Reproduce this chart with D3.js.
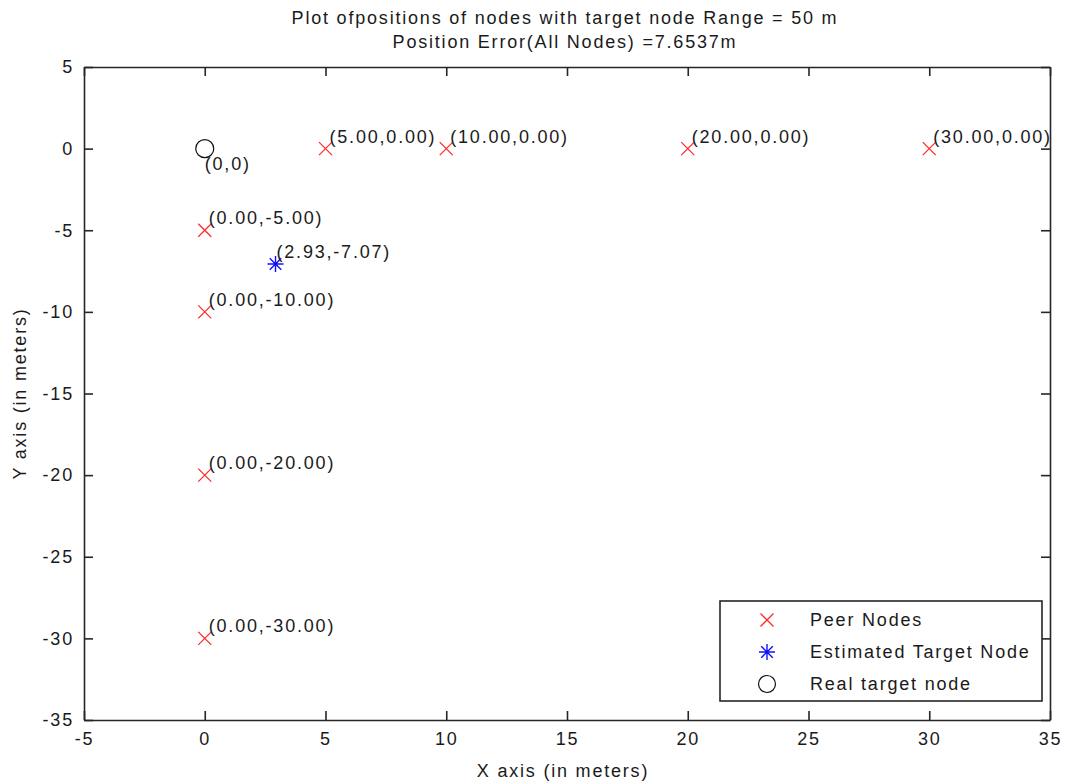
<!DOCTYPE html>
<html>
<head>
<meta charset="utf-8">
<script src="https://cdn.jsdelivr.net/npm/d3@7"></script>
<style>
  html, body { margin: 0; padding: 0; background: #fff; }
  svg { display: block; }
  text { font-family: "Liberation Sans", Arial, sans-serif; fill: #1a1a1a; }
</style>
</head>
<body>
<svg id="chart" width="1065" height="782"></svg>
<script>
// Node coordinates (metres)
const peerX = [5, 10, 20, 30, 0, 0, 0, 0];
const peerY = [0, 0, 0, 0, -5, -10, -20, -30];
const estimatedX = [2.93];
const estimatedY = [-7.07];
const realX = [0];
const realY = [0];

const xTicks = [-5, 0, 5, 10, 15, 20, 25, 30, 35];
const yTicks = [-35, -30, -25, -20, -15, -10, -5, 0, 5];

const titleLines = [
  "Plot ofpositions of nodes with target node Range = 50 m",
  "Position Error(All Nodes) =7.6537m"
];
const legendLabels = ["Peer Nodes", "Estimated Target Node", "Real target node"];

const svg = d3.select("#chart");
const W = 1065, H = 782;
const m = { left: 84, right: 15, top: 67, bottom: 62 };

const x = d3.scaleLinear().domain([-5, 35]).range([m.left, W - m.right]);
const y = d3.scaleLinear().domain([-35, 5]).range([H - m.bottom, m.top]);

const FONT = 18, LS = "1.8px";
const tickLen = 9;

// plain hyphen-minus for negative numbers
const num = v => (v < 0 ? "-" : "") + Math.abs(v);
const fix2 = v => (v < 0 ? "-" : "") + Math.abs(v).toFixed(2);

// Frame axes: labelled bottom/left, mirrored ticks on top/right, ticks pointing inward
function styleAxis(g) {
  g.select(".domain").attr("stroke", "#262626").attr("stroke-width", 1.6);
  g.selectAll(".tick line").attr("stroke", "#262626").attr("stroke-width", 1.6);
  g.selectAll(".tick text")
    .attr("font-family", "Liberation Sans, Arial, sans-serif")
    .style("font-size", FONT + "px").style("letter-spacing", LS).attr("fill", "#1a1a1a");
}

svg.append("g")
  .attr("transform", `translate(0,${y(-35)})`)
  .call(d3.axisBottom(x).tickValues(xTicks).tickSizeInner(-tickLen).tickSizeOuter(0).tickPadding(12).tickFormat(num))
  .call(styleAxis);
svg.append("g")
  .attr("transform", `translate(${x(-5)},0)`)
  .call(d3.axisLeft(y).tickValues(yTicks).tickSizeInner(-tickLen).tickSizeOuter(0).tickPadding(10).tickFormat(num))
  .call(styleAxis);
svg.append("g")
  .attr("transform", `translate(0,${y(5)})`)
  .call(d3.axisTop(x).tickValues(xTicks).tickSizeInner(-tickLen).tickSizeOuter(0).tickFormat(""))
  .call(styleAxis);
svg.append("g")
  .attr("transform", `translate(${x(35)},0)`)
  .call(d3.axisRight(y).tickValues(yTicks).tickSizeInner(-tickLen).tickSizeOuter(0).tickFormat(""))
  .call(styleAxis);

// Title
svg.append("g").selectAll("text").data(titleLines).join("text")
  .attr("x", (x(-5) + x(35)) / 2 - 2)
  .attr("y", (d, i) => 24 + i * 24)
  .attr("text-anchor", "middle")
  .style("font-size", FONT + "px").style("letter-spacing", LS)
  .text(d => d);

// Axis titles
svg.append("text")
  .attr("x", (x(-5) + x(35)) / 2 - 4).attr("y", 777)
  .attr("text-anchor", "middle")
  .style("font-size", FONT + "px").style("letter-spacing", LS)
  .text("X axis (in meters)");
svg.append("text")
  .attr("transform", `translate(26,${(y(-35) + y(5)) / 2}) rotate(-90)`)
  .attr("text-anchor", "middle")
  .style("font-size", FONT + "px").style("letter-spacing", LS)
  .text("Y axis (in meters)");

// Marker shapes
const crossPath = s => `M${-s},${-s}L${s},${s}M${-s},${s}L${s},${-s}`;
const starPath = s => {
  const d = s * 0.72;
  return `M${-s},0L${s},0M0,${-s}L0,${s}M${-d},${-d}L${d},${d}M${-d},${d}L${d},${-d}`;
};

const peers = peerX.map((v, i) => ({ x: v, y: peerY[i] }));
const est = estimatedX.map((v, i) => ({ x: v, y: estimatedY[i] }));
const real = realX.map((v, i) => ({ x: v, y: realY[i] }));

const labelStyle = sel => sel.style("font-size", FONT + "px").style("letter-spacing", LS);

// Real target node
svg.append("g").selectAll("circle").data(real).join("circle")
  .attr("cx", d => x(d.x)).attr("cy", d => y(d.y)).attr("r", 9)
  .attr("fill", "none").attr("stroke", "#111").attr("stroke-width", 1.2);
svg.append("g").selectAll("text").data(real).join("text")
  .attr("x", d => x(d.x)).attr("y", d => y(d.y) + 21)
  .call(labelStyle)
  .text(d => `(${num(d.x)},${num(d.y)})`);

// Peer nodes
svg.append("g").selectAll("path").data(peers).join("path")
  .attr("transform", d => `translate(${x(d.x)},${y(d.y)})`)
  .attr("d", crossPath(6.5))
  .attr("fill", "none").attr("stroke", "#ff2a2a").attr("stroke-width", 1.3);
svg.append("g").selectAll("text").data(peers).join("text")
  .attr("x", d => x(d.x) + 4).attr("y", d => y(d.y) - 6)
  .call(labelStyle)
  .text(d => `(${fix2(d.x)},${fix2(d.y)})`);

// Estimated target node
svg.append("g").selectAll("path").data(est).join("path")
  .attr("transform", d => `translate(${x(d.x)},${y(d.y)})`)
  .attr("d", starPath(8))
  .attr("fill", "none").attr("stroke", "#1010ff").attr("stroke-width", 1.4);
svg.append("g").selectAll("text").data(est).join("text")
  .attr("x", d => x(d.x) + 1).attr("y", d => y(d.y) - 6)
  .call(labelStyle)
  .text(d => `(${fix2(d.x)},${fix2(d.y)})`);

// Legend
const lg = svg.append("g").attr("transform", "translate(720,601)");
lg.append("rect").attr("width", 322).attr("height", 100)
  .attr("fill", "#fff").attr("stroke", "#262626").attr("stroke-width", 1.6);
const rowY = i => 19 + i * 32;
lg.append("path").attr("transform", `translate(47,${rowY(0)})`).attr("d", crossPath(6.5))
  .attr("stroke", "#ff2a2a").attr("stroke-width", 1.3).attr("fill", "none");
lg.append("path").attr("transform", `translate(47,${rowY(1)})`).attr("d", starPath(8))
  .attr("stroke", "#1010ff").attr("stroke-width", 1.4).attr("fill", "none");
lg.append("circle").attr("cx", 47).attr("cy", rowY(2)).attr("r", 8.5)
  .attr("fill", "none").attr("stroke", "#111").attr("stroke-width", 1.2);
lg.selectAll("text.lab").data(legendLabels).join("text").attr("class", "lab")
  .attr("x", 90).attr("y", (d, i) => rowY(i) + 6)
  .call(labelStyle)
  .text(d => d);
</script>
</body>
</html>
